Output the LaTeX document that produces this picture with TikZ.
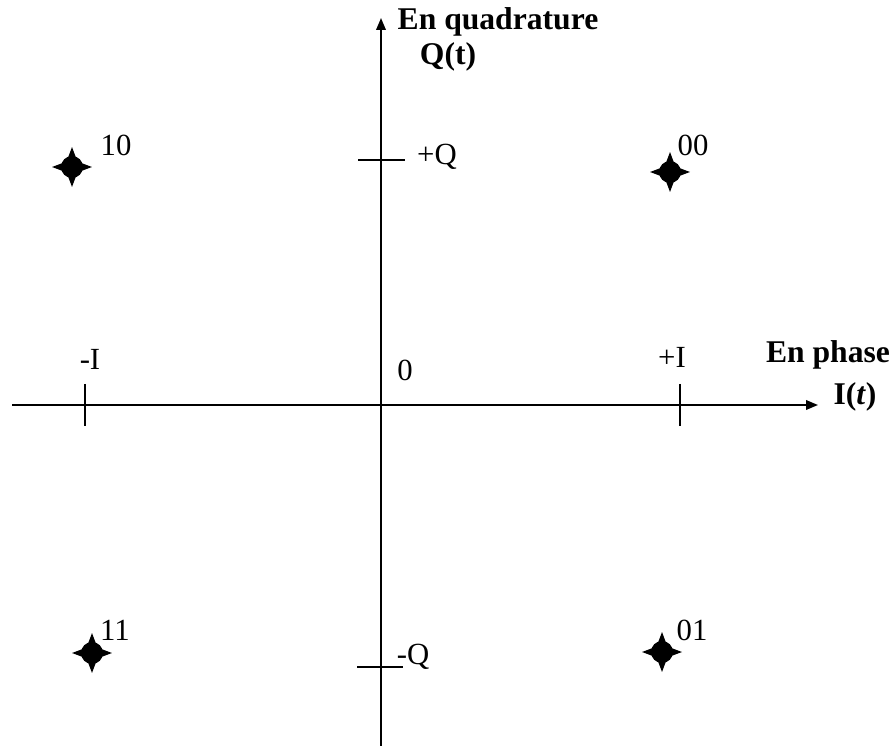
\documentclass[tikz,border=0pt]{standalone}
\usepackage{fontspec}
\setmainfont{Liberation Serif}
\usetikzlibrary{positioning, arrows.meta, calc, shapes.geometric}

\tikzset{
  axisline/.style={line width=1.1pt, -{Triangle[length=0.24cm, width=0.19cm]}},
  tickline/.style={line width=1.1pt},
  starpt/.style={star, star points=4, star point ratio=2.6, fill=black, inner sep=0pt, minimum size=0.8cm},
  dotpt/.style={circle, fill=black, inner sep=0pt, minimum size=0.44cm},
  lbl/.style={inner sep=0pt, font=\fontsize{17.5pt}{19pt}\selectfont},
  axlbl/.style={lbl, font=\fontsize{18pt}{20pt}\selectfont\bfseries}
}

\begin{document}
\begin{tikzpicture}[x=0.02cm, y=-0.02cm]
    \useasboundingbox (0,0) rectangle (896,746);
    % axes
    \coordinate (xstart) at (12,405);
    \coordinate (xend) at (818,405);
    \coordinate (ystart) at (381,746);
    \coordinate (yend) at (381,18);
    \draw[axisline] (xstart) -- (xend);
    \draw[axisline] (ystart) -- (yend);

    % ticks
    \draw[tickline] (85,384) coordinate (tmi) -- (85,426);
    \draw[tickline] (680,384) coordinate (tpi) -- (680,426);
    \draw[tickline] (358,160) coordinate (tpq) -- (405,160);
    \draw[tickline] (357,667) coordinate (tmq) -- (403,667);

    % axis labels
    \node[axlbl] (quad) at (498,22) {En quadrature};
    \node[axlbl] (qt) at (448,57) {Q(t)};
    \node[axlbl] (phase) at (828,355) {En phase};
    \node[axlbl] (it) at (855,397) {I(\textit{t})};

    \node[lbl] (mi) at (90,359) {-I};
    \node[lbl] (pi) at (672,357) {+I};
    \node[lbl] (zero) at (405,370) {0};
    \node[lbl] (pq) at (437,157) {+Q};
    \node[lbl] (mq) at (413,657) {-Q};

    % constellation
    \foreach \name/\px/\py/\bits/\bx/\by in {
        p10/72/167/10/116/145,
        p00/670/172/00/693/145,
        p11/92/653/11/115/630,
        p01/662/652/01/692/630} {
      \node[starpt] (\name) at (\px,\py) {};
      \node[dotpt] at (\name) {};
      \node[lbl] (\name lbl) at (\bx,\by) {\bits};
    }
\end{tikzpicture}
\end{document}
